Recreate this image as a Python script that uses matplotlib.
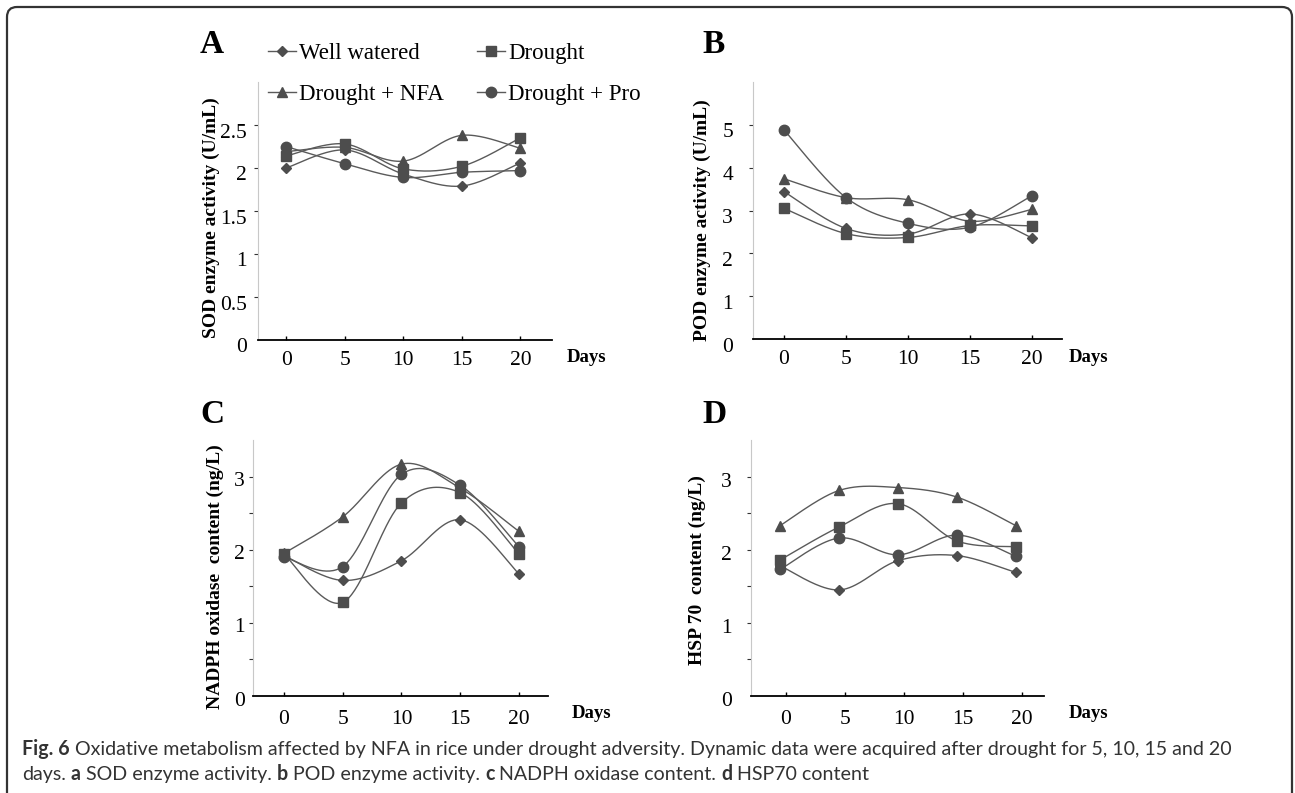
import numpy as np
import matplotlib
matplotlib.use("Agg")
import matplotlib.pyplot as plt
from matplotlib.lines import Line2D
from matplotlib.patches import FancyBboxPatch
from matplotlib.transforms import IdentityTransform
from matplotlib.font_manager import FontProperties

# --- data
days = [0, 5, 10, 15, 20]
hsp_days = [-0.5, 4.5, 9.5, 14.5, 19.5]   # panel D markers sit slightly left of the ticks
series_names = ["Well watered", "Drought", "Drought + NFA", "Drought + Pro"]

sod_well = [2.00, 2.21, 1.93, 1.79, 2.06]
sod_drought = [2.14, 2.28, 1.99, 2.02, 2.35]
sod_nfa = [2.19, 2.24, 2.08, 2.38, 2.23]
sod_pro = [2.25, 2.05, 1.89, 1.95, 1.97]

pod_well = [3.44, 2.58, 2.45, 2.92, 2.36]
pod_drought = [3.05, 2.46, 2.37, 2.65, 2.64]
pod_nfa = [3.74, 3.30, 3.25, 2.75, 3.03]
pod_pro = [4.88, 3.30, 2.70, 2.61, 3.35]

nadph_well = [1.92, 1.58, 1.85, 2.41, 1.67]
nadph_drought = [1.94, 1.28, 2.64, 2.78, 1.94]
nadph_nfa = [1.95, 2.45, 3.17, 2.84, 2.25]
nadph_pro = [1.90, 1.77, 3.03, 2.88, 2.04]

hsp_well = [1.78, 1.45, 1.85, 1.92, 1.69]
hsp_drought = [1.86, 2.31, 2.63, 2.12, 2.04]
hsp_nfa = [2.33, 2.81, 2.85, 2.72, 2.33]
hsp_pro = [1.73, 2.16, 1.93, 2.20, 1.91]

caption_line1 = [("Fig. 6", True),
                 ("Oxidative metabolism affected by NFA in rice under drought adversity. "
                  "Dynamic data were acquired after drought for 5, 10, 15 and 20", False)]
caption_line2 = [("days.", False), ("a", True), ("SOD enzyme activity.", False),
                 ("b", True), ("POD enzyme activity.", False),
                 ("c", True), ("NADPH oxidase content.", False),
                 ("d", True), ("HSP70 content", False)]

# --- styles
W, H = 1295, 793
SERIF = ["Liberation Serif", "DejaVu Serif"]
CAP_FONT = ["Lato", "Open Sans", "DejaVu Sans"]
line_col = "#5a5a5a"
mk_col = "#4d4d4d"
markers = {"Well watered": ("D", 5.5), "Drought": ("s", 7.0),
           "Drought + NFA": ("^", 7.5), "Drought + Pro": ("o", 7.5)}
draw_order = ["Drought + NFA", "Drought + Pro", "Well watered", "Drought"]


def smooth(x, y, n=40):
    # excel-like smoothed line (catmull-rom bezier)
    pts = np.column_stack([x, y]).astype(float)
    pts = np.vstack([pts[0], pts, pts[-1]])
    out = []
    t = np.linspace(0, 1, n)[:, None]
    for i in range(len(pts) - 3):
        p0, p1, p2, p3 = pts[i], pts[i + 1], pts[i + 2], pts[i + 3]
        c1 = p1 + (p2 - p0) / 6
        c2 = p2 - (p3 - p1) / 6
        seg = ((1 - t) ** 3) * p1 + 3 * ((1 - t) ** 2) * t * c1 + 3 * (1 - t) * t ** 2 * c2 + t ** 3 * p2
        out.append(seg if i == 0 else seg[1:])
    out = np.vstack(out)
    return out[:, 0], out[:, 1]


def rect(l, t, r, b):
    return [l / W, 1 - b / H, (r - l) / W, (b - t) / H]


panels = [
    dict(letter="A", x=days, vals=[sod_well, sod_drought, sod_nfa, sod_pro],
         box=(258, 82, 552, 340), xlim=(-2.4, 22.7), ylim=(0, 3),
         yticks=[0.5, 1, 1.5, 2, 2.5], ylabels=["0.5", "1", "1.5", "2", "2.5"],
         ygap=11, ydy=8, xpad=8, ylabel="SOD enzyme activity (U/mL)", ylab_xy=(211, 218),
         days_gap=15, letter_xy=(200, 53)),
    dict(letter="B", x=days, vals=[pod_well, pod_drought, pod_nfa, pod_pro],
         box=(753, 82, 1062, 339), xlim=(-2.5, 22.4), ylim=(0, 6),
         yticks=[1, 2, 3, 4, 5], ylabels=["1", "2", "3", "4", "5"],
         ygap=20, ydy=8, xpad=8, ylabel="POD enzyme activity (U/mL)", ylab_xy=(702, 220),
         days_gap=7, letter_xy=(702, 53)),
    dict(letter="C", x=days, vals=[nadph_well, nadph_drought, nadph_nfa, nadph_pro],
         box=(253, 440, 548, 696), xlim=(-2.64, 22.47), ylim=(0, 3.5),
         yticks=[0.5, 1, 1.5, 2, 2.5, 3], ylabels=["", "1", "", "2", "", "3"],
         ygap=8, ydy=5, xpad=10, ylabel="NADPH oxidase  content (ng/L)", ylab_xy=(215, 577),
         days_gap=24, letter_xy=(200, 423)),
    dict(letter="D", x=hsp_days, vals=[hsp_well, hsp_drought, hsp_nfa, hsp_pro],
         box=(751, 440, 1044, 696), xlim=(-2.97, 21.9), ylim=(0, 3.5),
         yticks=[0.5, 1, 1.5, 2, 2.5, 3], ylabels=["", "1", "", "2", "", "3"],
         ygap=19, ydy=6, xpad=10, ylabel="HSP 70  content (ng/L)", ylab_xy=(697, 570),
         days_gap=25, letter_xy=(702, 423)),
]

fig = plt.figure(figsize=(W / 100, H / 100), dpi=100)

for p in panels:
    ax = fig.add_axes(rect(*p["box"]))
    for name in draw_order:
        vals = p["vals"][series_names.index(name)]
        sx, sy = smooth(p["x"], vals)
        ax.plot(sx, sy, color=line_col, lw=1.0, zorder=2)
        m, ms = markers[name]
        ax.plot(p["x"], vals, ls="none", marker=m, ms=ms, mfc=mk_col, mec=mk_col, zorder=3)

    ax.set_xlim(*p["xlim"])
    ax.set_ylim(*p["ylim"])
    for s in ["top", "right"]:
        ax.spines[s].set_visible(False)
    ax.spines["left"].set_color("#c8c8c8")
    ax.spines["left"].set_linewidth(0.8)
    ax.spines["bottom"].set_color("black")
    ax.spines["bottom"].set_linewidth(1.3)

    ax.set_xticks(days)
    ax.set_xticklabels([str(d) for d in days], family=SERIF, fontsize=15.5)
    ax.tick_params(axis="x", direction="in", length=3, width=1, pad=p["xpad"])
    ax.set_yticks(p["yticks"])
    ax.set_yticklabels([])
    ax.tick_params(axis="y", direction="out", length=3, width=0.8, color="#333333")

    # y tick labels sit a little below their ticks in the original
    for v, lab in zip([0] + p["yticks"], ["0"] + p["ylabels"]):
        if lab:
            ax.annotate(lab, xy=(0, v), xycoords=("axes fraction", "data"),
                        xytext=(-p["ygap"], -p["ydy"]), textcoords="offset pixels",
                        ha="right", va="center", family=SERIF, fontsize=15.5,
                        annotation_clip=False)

    ax.annotate("Days", xy=(1, 0), xycoords="axes fraction",
                xytext=(p["days_gap"], -18), textcoords="offset pixels",
                ha="left", va="center", family=SERIF, fontsize=13.5, fontweight="bold",
                annotation_clip=False)

    fig.text(p["ylab_xy"][0] / W, 1 - p["ylab_xy"][1] / H, p["ylabel"], rotation=90,
             ha="center", va="center", family=SERIF, fontsize=14, fontweight="bold")
    fig.text(p["letter_xy"][0] / W, 1 - p["letter_xy"][1] / H, p["letter"],
             ha="left", va="baseline", family=SERIF, fontsize=24, fontweight="bold")

# legend above panel A
handles = {}
for name in series_names:
    m, ms = markers[name]
    handles[name] = Line2D([], [], color=line_col, lw=1.0, marker=m, ms=ms, mfc=mk_col, mec=mk_col)
order = ["Well watered", "Drought + NFA", "Drought", "Drought + Pro"]
fig.legend([handles[n] for n in order], order, loc="upper left",
           bbox_to_anchor=(268 / W, 1 - 43 / H), ncol=2, frameon=False,
           prop=FontProperties(family=SERIF, size=16.5), handlelength=1.2,
           handletextpad=0.15, columnspacing=1.45, labelspacing=0.85,
           borderpad=0, borderaxespad=0, numpoints=1)

# caption, fitted to the width of the original first line
renderer = fig.canvas.get_renderer()


def text_w(s, size, bold):
    fp = FontProperties(family=CAP_FONT, size=size, weight="bold" if bold else "normal")
    w, h, d = renderer.get_text_width_height_descent(s, fp, ismath=False)
    return w


def line_w(runs, size):
    sp = text_w("x x", size, False) - text_w("xx", size, False)
    return sum(text_w(t, size, b) for t, b in runs) + sp * (len(runs) - 1)


cap_size = 10 * 1211 / line_w(caption_line1, 10)
cap_col = "#333333"
for runs, base in [(caption_line1, 755), (caption_line2, 780)]:
    x = 22
    sp = text_w("x x", cap_size, False) - text_w("xx", cap_size, False)
    for t, b in runs:
        fig.text(x / W, 1 - base / H, t, family=CAP_FONT, fontsize=cap_size,
                 fontweight="bold" if b else "normal", color=cap_col,
                 ha="left", va="baseline")
        x += text_w(t, cap_size, b) + sp

# rounded frame, open at the bottom
frame = FancyBboxPatch((7, -40), 1285, H - 7 + 40, boxstyle="round,pad=0,rounding_size=10",
                       transform=IdentityTransform(), fill=False, ec="#333333", lw=1.6)
fig.add_artist(frame)

fig.savefig("out.png", dpi=100)
